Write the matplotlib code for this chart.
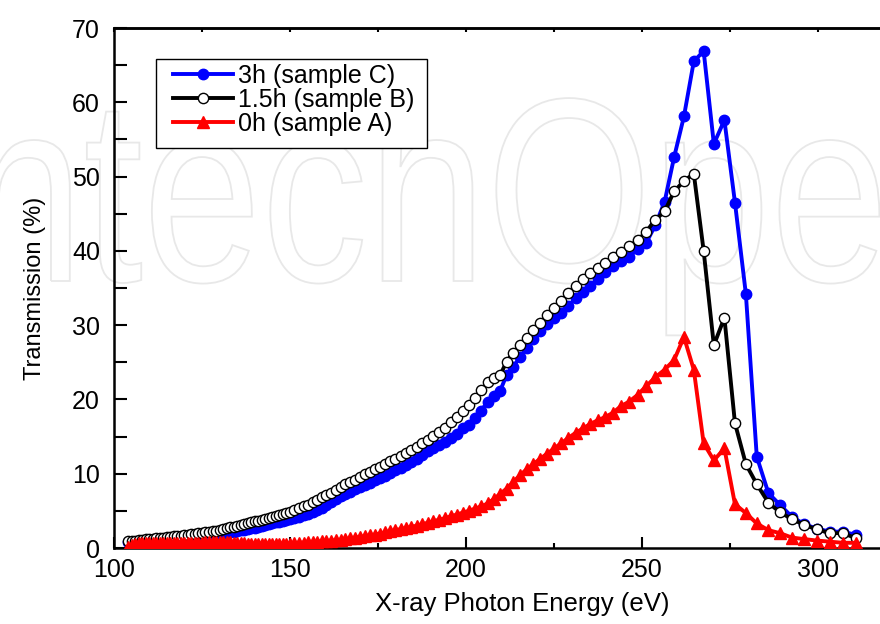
import matplotlib
matplotlib.use("Agg")
import matplotlib.pyplot as plt
from matplotlib.lines import Line2D
from matplotlib.patches import PathPatch, Rectangle
from matplotlib.textpath import TextPath
from matplotlib.font_manager import FontProperties
from matplotlib.transforms import Affine2D
import numpy as np

# photon energy grid (eV), shared by all three samples
energy = [
    104, 105, 106, 107, 108, 109, 110, 111, 112, 113, 114, 115, 116, 117, 118, 119,
    120, 121, 122, 123, 124, 125, 126, 127, 128, 129, 130, 131, 132, 133, 134, 135,
    136, 137, 138, 139, 140, 141, 142, 143, 144, 145, 146, 147, 148, 149, 150,
    151.3, 152.6, 153.9, 155.2, 156.5, 157.8, 159.1, 160.4, 161.7, 163.0, 164.4,
    165.8, 167.2, 168.6, 170.0, 171.4, 172.8, 174.2, 175.6, 177.0, 178.5, 180.0,
    181.5, 183.0, 184.5, 186.0, 187.6, 189.2, 190.8, 192.4, 194.0, 195.7, 197.4, 199.1,
    200.8, 202.6, 204.4, 206.2, 208.0, 209.8, 211.6, 213.5, 215.4, 217.3, 219.2,
    221.1, 223.1, 225.1, 227.1, 229.1, 231.2, 233.3, 235.4, 237.5,
    239.5, 241.8, 244.1, 246.4, 248.8, 251.3, 253.9, 256.5, 259.2, 262.0, 264.8,
    267.6, 270.5, 273.5, 276.5, 279.6, 282.7, 286.0, 289.3, 292.7, 296.2, 299.8,
    303.5, 307.2, 311.0,
]

# transmission (%) -- 3h anneal, sample C
trans_c = [
    0.8, 0.82, 0.85, 0.88, 0.9, 0.93, 0.96, 1.0, 1.03, 1.06, 1.1, 1.13, 1.17, 1.2, 1.24, 1.28,
    1.32, 1.37, 1.42, 1.47, 1.52, 1.58, 1.64, 1.7, 1.76, 1.83, 1.9, 1.97, 2.04, 2.12, 2.2, 2.28,
    2.37, 2.46, 2.55, 2.65, 2.75, 2.86, 2.97, 3.08, 3.2, 3.32, 3.44, 3.56, 3.68, 3.8, 3.9,
    4.05, 4.2, 4.4, 4.6, 4.85, 5.15, 5.45, 5.8, 6.15, 6.55, 6.95,
    7.3, 7.6, 7.9, 8.2, 8.5, 8.8, 9.1, 9.4, 9.75, 10.1, 10.45,
    10.8, 11.2, 11.6, 12.0, 12.5, 13.0, 13.4, 13.9, 14.3, 14.8, 15.4, 16.1,
    16.6, 17.5, 18.5, 19.7, 20.5, 21.2, 23.3, 24.4, 25.7, 26.9, 28.1,
    29.2, 30.2, 31.0, 31.7, 32.6, 33.6, 34.5, 35.3, 36.2,
    37.1, 37.9, 38.6, 39.2, 40.2, 41.1, 43.5, 46.6, 52.6, 58.1, 65.5,
    66.9, 54.4, 57.6, 46.5, 34.2, 12.3, 7.4, 5.8, 4.2, 3.2, 2.6,
    2.2, 2.2, 1.75,
]

# 1.5h anneal, sample B
trans_b = [
    0.9, 0.95, 1.0, 1.05, 1.1, 1.15, 1.2, 1.25, 1.3, 1.35, 1.4, 1.45, 1.5, 1.55, 1.6, 1.65,
    1.7, 1.76, 1.83, 1.9, 1.96, 2.03, 2.1, 2.17, 2.25, 2.35, 2.45, 2.55, 2.65, 2.76, 2.88, 3.0,
    3.1, 3.22, 3.33, 3.45, 3.57, 3.7, 3.83, 3.96, 4.1, 4.22, 4.35, 4.48, 4.62, 4.76, 4.9,
    5.1, 5.35, 5.6, 5.85, 6.15, 6.45, 6.8, 7.1, 7.45, 7.8, 8.2,
    8.55, 8.9, 9.2, 9.55, 9.9, 10.25, 10.6, 10.95, 11.3, 11.65, 12.0,
    12.4, 12.8, 13.2, 13.6, 14.1, 14.6, 15.1, 15.6, 16.2, 16.9, 17.6, 18.4,
    19.2, 20.2, 21.3, 22.3, 22.9, 23.3, 25.1, 26.3, 27.3, 28.3, 29.3,
    30.3, 31.4, 32.3, 33.2, 34.3, 35.3, 36.2, 37.0, 37.7,
    38.4, 39.2, 39.8, 40.6, 41.4, 42.6, 44.2, 45.3, 48.0, 49.4, 50.4,
    40.0, 27.3, 31.0, 16.8, 11.3, 8.6, 6.1, 4.8, 3.9, 3.1, 2.5,
    2.0, 2.0, 1.3,
]

# as-grown, sample A
trans_a = [
    0.2, 0.45, 0.6, 0.65, 0.7, 0.7, 0.7, 0.7, 0.7, 0.7, 0.7, 0.7, 0.7, 0.7, 0.7, 0.7,
    0.7, 0.7, 0.7, 0.7, 0.7, 0.7, 0.75, 0.75, 0.75, 0.75, 0.75, 0.75, 0.75, 0.75, 0.7, 0.7,
    0.7, 0.65, 0.6, 0.6, 0.6, 0.6, 0.6, 0.6, 0.6, 0.6, 0.6, 0.6, 0.6, 0.6, 0.6,
    0.65, 0.7, 0.72, 0.75, 0.8, 0.85, 0.9, 0.95, 1.0, 1.05, 1.1,
    1.2, 1.3, 1.4, 1.5, 1.6, 1.7, 1.8, 1.95, 2.1, 2.25, 2.4,
    2.55, 2.7, 2.85, 3.0, 3.2, 3.4, 3.6, 3.8, 4.0, 4.25, 4.5, 4.75,
    5.0, 5.3, 5.6, 6.0, 6.6, 7.3, 8.0, 8.9, 9.8, 10.6, 11.3,
    12.0, 12.7, 13.4, 14.1, 14.8, 15.5, 16.1, 16.7, 17.2,
    17.6, 18.2, 19.1, 19.7, 20.6, 21.8, 23.0, 24.0, 25.3, 28.4, 24.0,
    14.1, 11.8, 13.4, 5.9, 4.7, 3.3, 2.4, 2.0, 1.4, 1.2, 1.0,
    0.85, 0.7, 0.7,
]

labels = ["3h (sample C)", "1.5h (sample B)", "0h (sample A)"]

BLUE, RED = "#0000ff", "#ff0000"
W, H = 880, 624

plt.rcParams["font.family"] = ["Liberation Sans", "DejaVu Sans"]

fig = plt.figure(figsize=(W / 100, H / 100), dpi=100)
ax = fig.add_axes([114 / W, 76 / H, 774 / W, 520 / H])
ax.patch.set_alpha(0)

# faint outlined publisher mark behind everything (pixel coordinates)
wm = TextPath((0, 0), "IntechOpen", size=1, prop=FontProperties(family="Liberation Sans"))
wm_tr = Affine2D().scale(213, 262).translate(-94, H - 281)
fig.add_artist(PathPatch(wm, transform=wm_tr, facecolor="none",
                         edgecolor="#e8e8e8", lw=1.3, zorder=-5))

ax.plot(energy, trans_c, "-o", color=BLUE, lw=2.8, ms=7.5, mec=BLUE, zorder=3)
ax.plot(energy, trans_b, "-o", color="black", lw=2.8, ms=7.4, mfc="white",
        mec="black", mew=1.0, zorder=4)
ax.plot(energy, trans_a, "-^", color=RED, lw=2.8, ms=8.5, mec=RED, zorder=5)

ax.set_xlim(100, 320)
ax.set_ylim(0, 70)
ax.set_xticks([100, 150, 200, 250, 300])
ax.set_xticks([125, 175, 225, 275], minor=True)
ax.set_yticks(np.arange(0, 71, 10))
ax.set_yticks(np.arange(5, 70, 10), minor=True)

ax.tick_params(axis="both", which="both", direction="in", width=1.5, labelsize=18)
ax.tick_params(axis="x", which="major", length=8, pad=7)
ax.tick_params(axis="x", which="minor", length=3.6)
ax.tick_params(axis="y", which="both", length=9, pad=10)
for s in ax.spines.values():
    s.set_linewidth(1.8)
ax.spines["right"].set_visible(False)

# short inward ticks along the top edge
top = ax.secondary_xaxis("top")
top.set_xticks([100, 125, 150, 175, 200, 225, 250, 275, 300, 325])
top.set_xticklabels([])
top.tick_params(direction="in", length=3, width=1.5)
top.spines["top"].set_linewidth(1.8)

ax.set_xlabel("X-ray Photon Energy (eV)", fontsize=18.5)
ax.xaxis.set_label_coords(0.527, -0.085)
ax.set_ylabel("Transmission (%)", fontsize=17, labelpad=19)

# legend: white boxed panel, handles with one marker on the line
fig.add_artist(Rectangle((156 / W, 1 - 148 / H), 271 / W, 89 / H,
                         transform=fig.transFigure, facecolor="white",
                         edgecolor="black", lw=1.0, zorder=6))
handles = [
    Line2D([], [], color=BLUE, lw=2.8, marker="o", ms=7.5),
    Line2D([], [], color="black", lw=2.8, marker="o", ms=7.4, mfc="white", mew=1.0),
    Line2D([], [], color=RED, lw=2.8, marker="^", ms=8.5),
]
leg = fig.legend(handles, labels, loc="upper left",
                 bbox_to_anchor=(173 / W, 1 - 64 / H), bbox_transform=fig.transFigure,
                 fontsize=18, frameon=False, numpoints=1,
                 handlelength=2.4, handletextpad=0.2, borderpad=0,
                 labelspacing=0.0, borderaxespad=0)
leg.set_zorder(7)

fig.savefig("out.png", dpi=100)
